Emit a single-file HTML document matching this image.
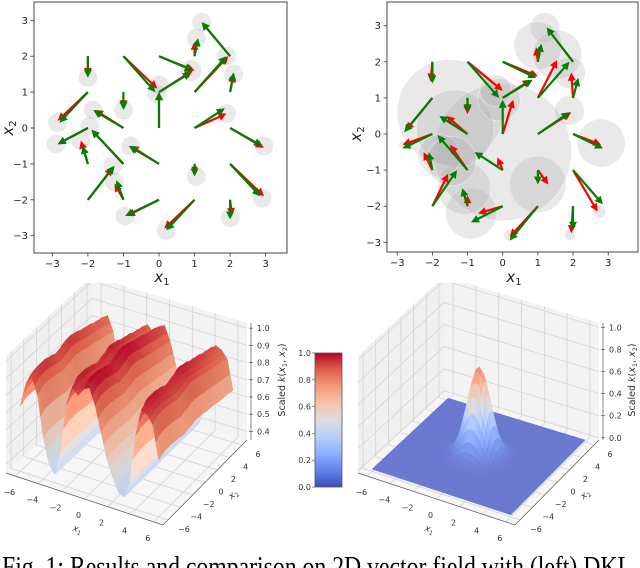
<!DOCTYPE html>
<html><head><meta charset="utf-8">
<style>
html,body{margin:0;padding:0;background:#fff;}
svg{display:block;font-family:"DejaVu Sans","Liberation Sans",sans-serif;}
</style></head>
<body>
<svg id="fig" xmlns="http://www.w3.org/2000/svg" width="640" height="568" viewBox="0 0 640 568">
<defs>
<clipPath id="clipTL"><rect x="34" y="2" width="253" height="251"/></clipPath>
<clipPath id="clipTR"><rect x="387" y="2" width="251" height="250"/></clipPath>
<clipPath id="clip3d"><rect x="0" y="283" width="640" height="260"/></clipPath>
<linearGradient id="cbGrad" x1="0" y1="1" x2="0" y2="0">
<stop offset="0" stop-color="rgb(59,76,192)"/><stop offset="0.125" stop-color="rgb(98,130,234)"/>
<stop offset="0.25" stop-color="rgb(141,176,254)"/><stop offset="0.375" stop-color="rgb(184,208,249)"/>
<stop offset="0.5" stop-color="rgb(221,221,221)"/><stop offset="0.625" stop-color="rgb(245,196,173)"/>
<stop offset="0.75" stop-color="rgb(244,154,123)"/><stop offset="0.875" stop-color="rgb(222,96,77)"/>
<stop offset="1" stop-color="rgb(180,4,38)"/>
</linearGradient>
</defs>
<text x="2" y="576" font-family="Liberation Serif, serif" font-size="29" textLength="630" lengthAdjust="spacingAndGlyphs">Fig. 1: Results and comparison on 2D vector field with (left) DKL</text>
</svg>
<script>
// ---------- data: vector fields ----------
var startX = [-2,-1,0,0,0,1,2,1,2,-1,-2,-1,1,-2,-2,-1,0,2,1,2,-2,-1,0,1,2];
var startY = [2,2,2,1,0,2,2,1,1,1,1,0,0,0,-1,-1,-1,0,-1,-1,-2,-2,-2,-2,-2];
var tlGreenU = [0,0.9,0.95,0.9,0,0.1,-0.8,0.9,0.1,0,-0.8,-0.85,0.85,-0.85,-0.15,-0.9,-0.85,0.9,0,0.85,0.75,-0.2,-0.95,-0.8,0];
var tlGreenV = [-0.6,-1.0,-0.4,0.55,1.0,0.5,0.95,1.0,0.55,-0.5,-0.85,0.5,0.55,-0.45,0.5,0.95,0.5,-0.5,-0.35,-0.9,0.95,0.55,-0.45,-0.85,-0.55];
var tlRedU = [0,0.95,1.0,0.95,0,0,-0.8,0.95,0.1,0,-0.85,-0.8,0.9,-0.85,-0.2,-0.9,-0.8,0.95,0,0.95,0.7,-0.25,-0.9,-0.85,0.05];
var tlRedV = [-0.55,-0.9,-0.4,0.6,1.0,0.4,0.95,1.0,0.5,-0.45,-0.8,0.5,0.4,-0.45,0.65,0.95,0.5,-0.55,-0.25,-0.9,0.9,0.45,-0.45,-0.8,-0.45];
var tlCircX = [-2,0,-0.05,0.9,1.05,1.2,1.9,2.1,-1,-2.85,-1.85,1.9,-2.9,-1.95,-2.2,-1.3,-1.25,-0.8,2.95,1.05,2.9,-0.95,0.2,2.0];
var tlCircY = [1.4,1.2,0.95,1.6,2.5,2.95,2.0,1.5,0.5,0.15,0.5,0.4,-0.45,0.05,-0.35,-1.05,-1.5,-0.5,-0.5,-1.35,-1.95,-2.45,-2.85,-2.5];
var tlCircR = [0.27,0.27,0.27,0.3,0.27,0.27,0.27,0.27,0.27,0.27,0.27,0.27,0.27,0.27,0.27,0.27,0.27,0.27,0.27,0.27,0.27,0.27,0.27,0.27];
var trGreenU = [0,0.9,0.95,0.85,0,0.1,-0.75,0.9,0.15,0,-0.8,-0.8,0.9,-0.85,-0.1,-0.85,-0.8,0.85,0,0.85,0.7,-0.15,-0.9,-0.8,0];
var trGreenV = [-0.6,-1.0,-0.45,0.5,0.95,0.5,0.95,1.0,0.55,-0.4,-0.95,0.5,0.6,-0.4,0.5,0.97,0.5,-0.4,-0.4,-0.95,1.0,0.5,-0.45,-0.95,-0.65];
var trRedU = [-0.05,1.0,1.0,0.8,0.3,-0.05,-0.75,0.55,-0.05,0,-0.75,-0.6,0.95,-0.85,-0.25,-0.5,-0.15,0.8,0.3,0.7,0.45,0,-0.7,-0.8,-0.05];
var trRedV = [-0.55,-0.8,-0.4,0.5,0.95,0.4,0.95,1.05,0.7,-0.45,-0.9,0.5,0.6,-0.3,0.5,0.7,0.35,-0.3,-0.4,-1.15,0.9,0.3,-0.2,-0.85,-0.75];
var trCircX = [1.2,1.0,1.55,1.9,1.9,2.8,1.0,2.75,1.9,0.2,-0.9,-1.1,0,-1.5,-1.35,-0.1,-0.2,-1.8,-2.85,-1.45];
var trCircY = [2.95,2.45,2.2,1.7,0.65,-0.25,-1.4,-2.15,-2.8,-2.8,-2.2,-1.5,-0.5,0.6,0.15,0.95,1.2,-0.6,-0.3,-0.75];
var trCircR = [0.42,0.68,0.7,0.45,0.42,0.68,0.8,0.18,0.15,0.16,0.72,0.75,1.95,1.5,1.1,0.6,0.45,0.6,0.1,0.7];
var quiverTicks = [-3,-2,-1,0,1,2,3];

// ---------- data: 3D surfaces ----------
var gridTicks3d = [-6,-4,-2,0,2,4,6];
var leftZTicks = [0.4,0.5,0.6,0.7,0.8,0.9,1.0];
var rightZTicks = [0.0,0.2,0.4,0.6,0.8,1.0];
var cbTicks = [0.0,0.2,0.4,0.6,0.8,1.0];
var dklProfileX1 = [-6,-5.5,-5,-4.5,-4,-3.5,-3,-2.5,-2,-1.5,-1,-0.5,0,0.5,1,1.5,2,2.5,3,3.5,4,4.5,5,5.5,6];
var dklProfileZ = [0.75,0.9,0.95,0.85,0.6,0.45,0.4,0.55,0.85,0.97,0.93,0.98,1.0,0.9,0.75,0.6,0.5,0.42,0.4,0.5,0.8,0.97,0.95,0.9,0.7];
var dklModX2 = [-6,-5,-4,-3,-2,-1,0,1,2,3,4,5,6];
var dklModVal = [0.95,1,1,0.98,0.95,0.97,1,0.98,0.95,0.93,0.9,0.88,0.85];
var rbfPeak = [0.8];
var rbfCenter = [0,0];
var rbfSigma = [0.9];

var NS = 'http://www.w3.org/2000/svg';
var svg = document.getElementById('fig');
function mk(tag, attrs, parent) {
  var e = document.createElementNS(NS, tag);
  for (var k in attrs) e.setAttribute(k, attrs[k]);
  (parent || svg).appendChild(e);
  return e;
}
function txt(s, attrs, parent) { var e = mk('text', attrs, parent); e.textContent = s; return e; }

var CM = [[59,76,192],[98,130,234],[141,176,254],[184,208,249],[221,221,221],[245,196,173],[244,154,123],[222,96,77],[180,4,38]];
function coolwarmArr(t) {
  t = Math.max(0, Math.min(1, t)); var f = t * 8, i = Math.min(7, Math.floor(f)), r = f - i;
  return [0,1,2].map(function(k){ return CM[i][k] + (CM[i+1][k]-CM[i][k]) * r; });
}
function coolwarm(t, shade, alpha) {
  var c = coolwarmArr(t);
  shade = shade || 1; alpha = alpha || 1;
  return 'rgb(' + c.map(function(v){ v = v * shade * alpha + 255 * (1 - alpha); return Math.round(Math.max(0, Math.min(255, v))); }).join(',') + ')';
}

// ---------- quiver panels ----------
function quiverPanel(cfg) {
  var g = mk('g', {});
  
  
  function sx(v){ return cfg.x0 + v * cfg.kx; }
  function sy(v){ return cfg.y0 - v * cfg.ky; }
  var frame = mk('rect', {x: cfg.L, y: cfg.T, width: cfg.R - cfg.L, height: cfg.B - cfg.T, fill: '#fff', stroke: 'none'}, g);
  
  
  var inner = mk('g', {'clip-path': 'url(#' + cfg.clip + ')'}, g);
  for (var i = 0; i < cfg.cx.length; i++) {
    var c = mk('circle', {cx: sx(cfg.cx[i]), cy: sy(cfg.cy[i]), r: cfg.cr[i] * cfg.kx, fill: 'rgb(170,170,170)', 'fill-opacity': 0.26, stroke: '#fff', 'stroke-opacity': 0.6, 'stroke-width': 0.8, 'stroke-dasharray': '2,1'}, inner);
    
    
  }
  function arrow(x0, y0, u, v, col, nm) {
    var ax = sx(x0), ay = sy(y0), bx = sx(x0 + u), by = sy(y0 + v);
    var dx = bx - ax, dy = by - ay, len = Math.sqrt(dx*dx + dy*dy);
    if (len < 0.5) return;
    var ux = dx/len, uy = dy/len, nx = -uy, ny = ux;
    var hl = Math.min(8, len * 0.7), hw = 3.4 * hl / 8 + 0.6, w = 1.1;
    var cx = bx - ux * hl, cy = by - uy * hl;
    var pts = [[ax+nx*w, ay+ny*w],[cx+nx*w, cy+ny*w],[cx+nx*hw, cy+ny*hw],[bx,by],[cx-nx*hw, cy-ny*hw],[cx-nx*w, cy-ny*w],[ax-nx*w, ay-ny*w]];
    var p = mk('polygon', {points: pts.map(function(q){return q[0].toFixed(1)+','+q[1].toFixed(1);}).join(' '), fill: col}, inner);
    
    
  }
  for (var i = 0; i < startX.length; i++) arrow(startX[i], startY[i], cfg.ru[i], cfg.rv[i], 'rgb(255,0,0)', 'predicted-arrow');
  for (var i = 0; i < startX.length; i++) arrow(startX[i], startY[i], cfg.gu[i], cfg.gv[i], 'rgb(0,128,0)', 'true-arrow');
  var border = mk('rect', {x: cfg.L, y: cfg.T, width: cfg.R - cfg.L, height: cfg.B - cfg.T, fill: 'none', stroke: '#444', 'stroke-width': 1}, g);
  
  
  quiverTicks.forEach(function(t){
    var x = sx(t);
    mk('line', {x1: x, y1: cfg.B, x2: x, y2: cfg.B + 3.5, stroke: '#333', 'stroke-width': 0.8}, g);
    var lb = txt((t < 0 ? '\u2212' : '') + Math.abs(t), {x: x, y: cfg.B + 14, 'font-size': 10, 'text-anchor': 'middle', fill: '#222'}, g);
    
    
    var y = sy(t);
    mk('line', {x1: cfg.L - 3.5, y1: y, x2: cfg.L, y2: y, stroke: '#333', 'stroke-width': 0.8}, g);
    var lb2 = txt((t < 0 ? '\u2212' : '') + Math.abs(t), {x: cfg.L - 6, y: y + 3.5, 'font-size': 10, 'text-anchor': 'end', fill: '#222'}, g);
    
    
  });
  var xl = txt('', {x: cfg.xlx, y: 282, 'font-size': 15, 'text-anchor': 'middle', fill: '#222'}, g);
  xl.innerHTML = '<tspan font-style="italic">x</tspan><tspan font-size="10" dy="3">1</tspan>';
  
  
  var yl = txt('', {x: 0, y: 0, 'font-size': 15, 'text-anchor': 'middle', fill: '#222', transform: 'translate(' + cfg.ylx + ',' + cfg.yly + ') rotate(-90)'}, g);
  yl.innerHTML = '<tspan font-style="italic">x</tspan><tspan font-size="10" dy="3">2</tspan>';
  
  
}
quiverPanel({name: 'dkl-vector-field', L: 34, R: 287, T: 2, B: 253, x0: 159, y0: 128, kx: 35.55, ky: 35.9, clip: 'clipTL',
  gu: tlGreenU, gv: tlGreenV, ru: tlRedU, rv: tlRedV, cx: tlCircX, cy: tlCircY, cr: tlCircR, xlx: 162, ylx: 13, yly: 128});
quiverPanel({name: 'gp-vector-field', L: 387, R: 638, T: 2, B: 252, x0: 502.7, y0: 134, kx: 35.17, ky: 36.1, clip: 'clipTR',
  gu: trGreenU, gv: trGreenV, ru: trRedU, rv: trRedV, cx: trCircX, cy: trCircY, cr: trCircR, xlx: 514, ylx: 361, yly: 134});

// ---------- 3D panels ----------
var PL = [358,473], PF = [515,525], PR = [599,440], PB = [444,393], H3 = 117, DLO = -6.8, DHI = 6.8;
function proj(ox, x1, x2, h) {
  var u = (x1 - DLO) / (DHI - DLO), v = (x2 - DLO) / (DHI - DLO);
  var x = (1-u)*(1-v)*PL[0] + u*(1-v)*PF[0] + u*v*PR[0] + (1-u)*v*PB[0];
  var y = (1-u)*(1-v)*PL[1] + u*(1-v)*PF[1] + u*v*PR[1] + (1-u)*v*PB[1];
  return [x + ox, y - H3 * h];
}
function pstr(p){ return p[0].toFixed(1) + ',' + p[1].toFixed(1); }
function interp(xs, ys, x) {
  if (x <= xs[0]) return ys[0];
  for (var i = 0; i < xs.length - 1; i++) {
    if (x <= xs[i+1]) { var t = (x - xs[i]) / (xs[i+1] - xs[i]); t = (1 - Math.cos(Math.PI*t)) / 2; return ys[i] + (ys[i+1]-ys[i]) * t; }
  }
  return ys[ys.length-1];
}
function panel3d(cfg) {
  var ox = cfg.ox;
  var g = mk('g', {'clip-path': 'url(#clip3d)'});
  
  
  function zh(z){ return (z - cfg.zlo) / (cfg.zhi - cfg.zlo); }
  var floor = mk('polygon', {points: [proj(ox,DLO,DLO,0),proj(ox,DHI,DLO,0),proj(ox,DHI,DHI,0),proj(ox,DLO,DHI,0)].map(pstr).join(' '), fill: 'rgb(246,246,246)', stroke: 'none'}, g);
  
  
  var lw = mk('polygon', {points: [proj(ox,DLO,DLO,0),proj(ox,DLO,DHI,0),proj(ox,DLO,DHI,1),proj(ox,DLO,DLO,1)].map(pstr).join(' '), fill: 'rgb(240,240,240)', stroke: 'none'}, g);
  
  
  var bw = mk('polygon', {points: [proj(ox,DLO,DHI,0),proj(ox,DHI,DHI,0),proj(ox,DHI,DHI,1),proj(ox,DLO,DHI,1)].map(pstr).join(' '), fill: 'rgb(243,243,243)', stroke: 'none'}, g);
  
  
  var gl = {stroke: 'rgb(212,212,212)', 'stroke-width': 0.8, fill: 'none'};
  gridTicks3d.forEach(function(t){
    var a = mk('polyline', Object.assign({points: [proj(ox,t,DLO,0),proj(ox,t,DHI,0),proj(ox,t,DHI,1)].map(pstr).join(' ')}, gl), g);
    
    
    var b = mk('polyline', Object.assign({points: [proj(ox,DHI,t,0),proj(ox,DLO,t,0),proj(ox,DLO,t,1)].map(pstr).join(' ')}, gl), g);
    
    
  });
  cfg.zticks.forEach(function(z){
    var h = zh(z);
    var a = mk('polyline', Object.assign({points: [proj(ox,DLO,DLO,h),proj(ox,DLO,DHI,h),proj(ox,DHI,DHI,h)].map(pstr).join(' ')}, gl), g);
    
    
  });
  mk('polyline', {points: [proj(ox,DLO,DLO,0),proj(ox,DHI,DLO,0),proj(ox,DHI,DHI,0)].map(pstr).join(' '), stroke: '#555', 'stroke-width': 0.7, fill: 'none'}, g);
  var zx0 = proj(ox,DHI,DHI,0), zx1 = proj(ox,DHI,DHI,1);
  mk('line', {x1: zx0[0]+4, y1: zx0[1], x2: zx1[0]+4, y2: zx1[1], stroke: '#555', 'stroke-width': 0.7}, g);
  var N = 48, step = 12 / N, pts = [];
  for (var i = 0; i <= N; i++) { pts[i] = []; for (var j = 0; j <= N; j++) { var x1 = -6 + i*step, x2 = -6 + j*step; pts[i][j] = cfg.f(x1, x2); } }
  var quads = [];
  for (var i = 0; i < N; i++) for (var j = 0; j < N; j++) quads.push([i, j]);
  quads.sort(function(a, b){ return (a[0] - a[1]) - (b[0] - b[1]) || (a[0] + a[1]) - (b[0] + b[1]); });
  var sg = mk('g', {}, g);
  
  
  quads.forEach(function(q){
    var i = q[0], j = q[1];
    var z00 = pts[i][j], z10 = pts[i+1][j], z11 = pts[i+1][j+1], z01 = pts[i][j+1];
    var x1 = -6 + i*step, x2 = -6 + j*step;
    var poly = [proj(ox,x1,x2,zh(z00)), proj(ox,x1+step,x2,zh(z10)), proj(ox,x1+step,x2+step,zh(z11)), proj(ox,x1,x2+step,zh(z01))];
    var zm = (z00 + z10 + z11 + z01) / 4;
    var gx = (z10 - z00) / step, gy = (z01 - z00) / step;
    var shade = cfg.shade ? 1 + Math.max(-0.12, Math.min(0.08, (gx - gy) * 0.12)) : 1;
    var col = cfg.color(zm, shade);
    mk('polygon', {points: poly.map(pstr).join(' '), fill: col, stroke: col, 'stroke-width': 0.6}, sg);
  });
  var lf = {'font-size': 8, fill: '#333', 'text-anchor': 'middle'};
  gridTicks3d.forEach(function(t){
    var p = proj(ox, t, DLO, 0);
    var l = txt((t < 0 ? '\u2212' : '') + Math.abs(t), Object.assign({x: p[0] - 6, y: p[1] + 19}, lf), svg);
    
    
    var p2 = proj(ox, DHI, t, 0);
    var l2 = txt((t < 0 ? '\u2212' : '') + Math.abs(t), Object.assign({x: p2[0] + 16, y: p2[1] + 12}, lf), svg);
    
    
  });
  cfg.zticks.forEach(function(z){
    var p = proj(ox, DHI, DHI, zh(z));
    mk('line', {x1: p[0]+2, y1: p[1], x2: p[0]+6, y2: p[1], stroke: '#555', 'stroke-width': 0.7}, svg);
    var l = txt(z.toFixed(1), {x: p[0] + 10, y: p[1] + 3, 'font-size': 8, fill: '#333'}, svg);
    
    
  });
  var a1 = proj(ox, 0, DLO, 0);
  var t1 = txt('', {x: 0, y: 0, 'font-size': 9, fill: '#333', 'text-anchor': 'middle', transform: 'translate(' + (a1[0] - 8) + ',' + (a1[1] + 33) + ') rotate(20)'}, svg);
  t1.innerHTML = '<tspan font-style="italic">x</tspan><tspan font-size="6" dy="2">1</tspan>';
  
  
  var a2 = proj(ox, DHI, 0, 0);
  var t2 = txt('', {x: 0, y: 0, 'font-size': 9, fill: '#333', 'text-anchor': 'middle', transform: 'translate(' + (a2[0] + 30) + ',' + (a2[1] + 14) + ') rotate(-40)'}, svg);
  t2.innerHTML = '<tspan font-style="italic">x</tspan><tspan font-size="6" dy="2">2</tspan>';
  
  
  var t3 = txt('', {x: 0, y: 0, 'font-size': 9.5, fill: '#333', 'text-anchor': 'middle', transform: 'translate(' + cfg.zlx + ',380) rotate(-90)'}, svg);
  t3.innerHTML = 'Scaled <tspan font-style="italic">k</tspan>(<tspan font-style="italic">x</tspan><tspan font-size="6.5" dy="2">1</tspan><tspan dy="-2">, </tspan><tspan font-style="italic">x</tspan><tspan font-size="6.5" dy="2">2</tspan><tspan dy="-2">)</tspan>';
  
  
}
panel3d({name: 'dkl-kernel-surface', ox: -352, zlo: 0.35, zhi: 1.03, zticks: leftZTicks, zlx: 285, shade: true,
  f: function(x1, x2){ var p = interp(dklProfileX1, dklProfileZ, x1), m = interp(dklModX2, dklModVal, x2); return 0.38 + (p - 0.38) * m; },
  color: function(z, s){ return coolwarm(z, s, 1); }});
panel3d({name: 'rbf-kernel-surface', ox: 0, zlo: -0.02, zhi: 1.04, zticks: rightZTicks, zlx: 635, shade: false,
  f: function(x1, x2){ var dx = x1 - rbfCenter[0], dy = x2 - rbfCenter[1]; return rbfPeak[0] * Math.exp(-(dx*dx + dy*dy) / (2 * rbfSigma[0] * rbfSigma[0])); },
  color: function(z, s){ return coolwarm(z, 1, 0.75 + 0.25 * Math.min(1, z / 0.3)); }});

// ---------- colorbar ----------
var cb = mk('g', {});


var cbT = 353, cbB = 487;
var bar = mk('rect', {x: 315, y: cbT, width: 27, height: cbB - cbT, fill: 'url(#cbGrad)', stroke: '#555', 'stroke-width': 0.8}, cb);


cbTicks.forEach(function(t){
  var y = cbB - t * (cbB - cbT);
  mk('line', {x1: 312, y1: y, x2: 315, y2: y, stroke: '#555', 'stroke-width': 0.7}, cb);
  var l = txt(t.toFixed(1), {x: 311, y: y + 3, 'font-size': 8, fill: '#333', 'text-anchor': 'end'}, cb);
  
  
});
</script>
</body></html>
